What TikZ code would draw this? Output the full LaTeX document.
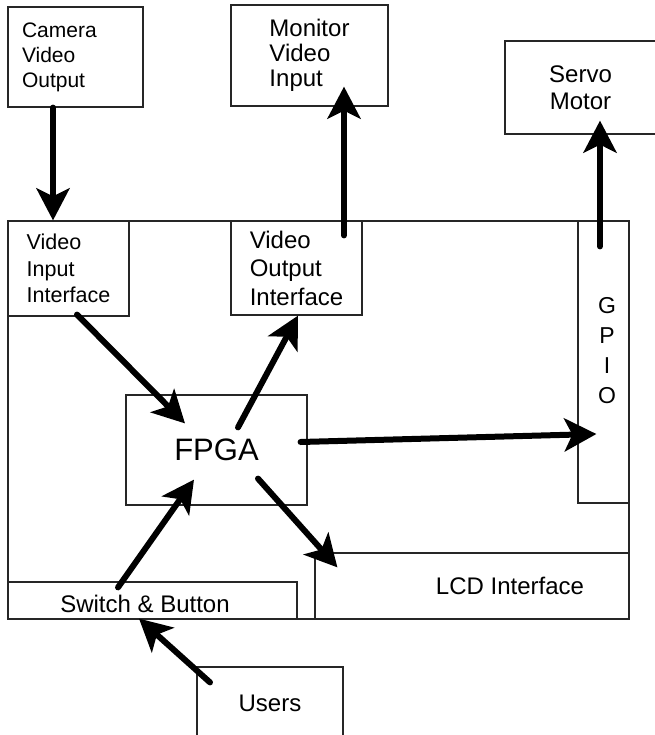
\documentclass[tikz,border=0pt]{standalone}
\usepackage{fontspec}
\setmainfont{Liberation Sans}
\usetikzlibrary{arrows.meta}
\tikzstyle{block} = [rectangle, draw=black!85, line width=1.2pt, inner sep=0pt, align=left]
\tikzstyle{smalltext} = [font=\fontsize{21}{25}\selectfont]
\tikzstyle{bigtext} = [font=\fontsize{24}{25}\selectfont]
\tikzstyle{signal} = [line width=6pt, line cap=round, -{Stealth[length=32pt, width=33pt, inset=8pt]}]

\begin{document}
\begin{tikzpicture}[x=1pt, y=-1pt]
  \useasboundingbox (0,0) rectangle (654,735);
  % the board and its parts
  \node (board) [block, minimum width=621pt, minimum height=398pt] at (318.5,420) {};
  \node (vin) [block, smalltext, font=\fontsize{21.5}{26.5}\selectfont, minimum width=121pt, minimum height=95pt] at (68.5,268.5) {Video\\Input\\Interface};
  \node (vout) [block, bigtext, font=\fontsize{24}{28.5}\selectfont, minimum width=131pt, minimum height=94pt] at (296.5,268) {Video\\Output\\Interface};
  \node (gpio) [block, minimum width=51pt, minimum height=282pt,
    label={[smalltext, font=\fontsize{23}{30}\selectfont, align=center, xshift=3.5pt, yshift=11pt]center:G\\P\\I\\O}] at (603.5,362) {};
  \node (fpga) [block, font=\fontsize{31}{36}\selectfont, minimum width=181pt, minimum height=110pt] at (216.5,450) {FPGA};
  \node (lcd) [block, minimum width=314pt, minimum height=66pt,
    label={[bigtext, xshift=38pt]center:LCD Interface}] at (472,586) {};
  \node (sw) [block, minimum width=289pt, minimum height=37pt,
    label={[bigtext, xshift=-7.5pt, yshift=-3.5pt]center:Switch \& Button}] at (152.5,600.5) {};
  % outside world
  \node (cam) [block, smalltext, text width=107pt, minimum width=135pt, minimum height=100pt] at (75.5,57) {Camera\\Video\\Output};
  \node (mon) [block, bigtext, minimum width=157pt, minimum height=101pt] at (309.5,55.5) {Monitor\\Video\\Input};
  \node (servo) [block, bigtext, font=\fontsize{24}{27}\selectfont, align=center, minimum width=151pt, minimum height=93pt] at (580.5,87.5) {Servo\\Motor};
  \node (users) [block, bigtext, minimum width=146pt, minimum height=72pt] at (270,703) {Users};
  % signals
  \draw [signal] ([xshift=-22.5pt]cam.south) -- ([xshift=-15.5pt]vin.north);
  \draw [signal] ([xshift=47.5pt, yshift=-15pt]vout.north) -- ([xshift=34.5pt, yshift=20pt]mon.south);
  \draw [signal] ([xshift=-3.5pt, yshift=-26pt]gpio.north) -- ([xshift=19.5pt, yshift=14pt]servo.south);
  \draw [signal] ([xshift=8.5pt, yshift=2pt]vin.south) -- ([xshift=-31.5pt, yshift=-29pt]fpga.north);
  \draw [signal] ([xshift=21.5pt, yshift=-33pt]fpga.north) -- ([xshift=1.5pt]vout.south);
  \draw [signal] ([xshift=-7pt, yshift=8pt]fpga.east) -- ([xshift=19pt, yshift=-72pt]gpio.west);
  \draw [signal] ([xshift=41.5pt, yshift=27pt]fpga.south) -- ([xshift=23pt, yshift=-15pt]lcd.north west);
  \draw [signal] ([xshift=-34.5pt, yshift=-6pt]sw.north) -- ([xshift=-22.5pt, yshift=26pt]fpga.south);
  \draw [signal] ([xshift=-60pt, yshift=-16pt]users.north) -- ([xshift=-13.5pt, yshift=1pt]sw.south);
\end{tikzpicture}
\end{document}
